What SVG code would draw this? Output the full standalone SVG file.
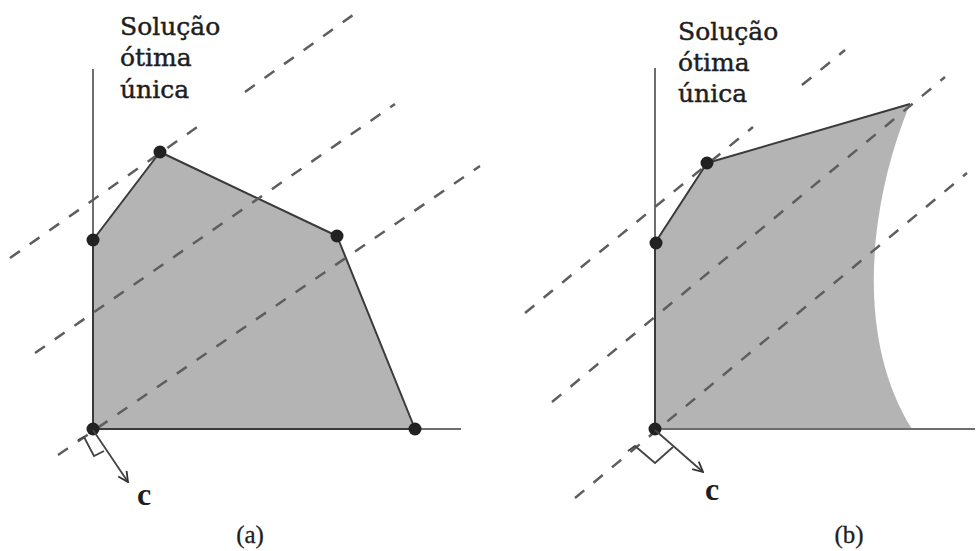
<svg xmlns="http://www.w3.org/2000/svg" width="977" height="551" viewBox="0 0 977 551">
<defs>
<style>
.region{fill:#b4b4b4;stroke:none}
.edge{fill:none;stroke:#3a3a3a;stroke-width:2;stroke-linejoin:round}
.axis{fill:none;stroke:#6e6e6e;stroke-width:2}
.dash{fill:none;stroke:#5e5e5e;stroke-width:2.5;stroke-dasharray:12 12}
.dot{fill:#222}
.mark{fill:none;stroke:#444;stroke-width:1.8}
.lbl{font-family:"DejaVu Serif","Liberation Serif",serif;font-size:25px;fill:#1e1e1e;stroke:#1e1e1e;stroke-width:0.45}
.vec{font-family:"Liberation Serif",serif;font-size:32px;font-weight:bold;fill:#1e1e1e}
.cap{font-family:"Liberation Serif",serif;font-size:25px;fill:#1e1e1e;stroke:#1e1e1e;stroke-width:0.3;text-anchor:middle}
</style>
<marker id="arr" viewBox="0 0 12 12" refX="11" refY="6" markerWidth="12" markerHeight="12" markerUnits="userSpaceOnUse" orient="auto">
<path d="M1,1 L11,6 L1,11" fill="none" stroke="#333" stroke-width="1.8"/>
</marker>
</defs>
<rect width="977" height="551" fill="#fff"/>

<g id="panel-a">
<g id="a-region">
<polygon class="region" points="93,429 93,240 160,152 337,236 415,429"/>
</g>
<g id="a-axes">
<line class="axis" x1="93" y1="69" x2="93" y2="429"/>
<line class="axis" x1="93" y1="429" x2="461" y2="429"/>
</g>
<g id="a-edges">
<polyline class="edge" points="93,429 93,240 160,152 337,236 415,429 93,429"/>
</g>
<g id="a-dashed">
<line class="dash" x1="10" y1="258" x2="203" y2="123"/>
<line class="dash" x1="245" y1="92" x2="360" y2="10"/>
<line class="dash" x1="35" y1="353" x2="395" y2="104"/>
<line class="dash" x1="58" y1="455" x2="480" y2="166"/>
</g>
<g id="a-vertices">
<circle class="dot" cx="93" cy="429" r="6.5"/>
<circle class="dot" cx="93" cy="240" r="6.5"/>
<circle class="dot" cx="160" cy="152" r="6.5"/>
<circle class="dot" cx="337" cy="236" r="6.5"/>
<circle class="dot" cx="415" cy="429" r="6.5"/>
</g>
<g id="a-vector">
<polyline class="mark" points="78,440 84,437 94,456 104,451"/>
<line class="mark" x1="93" y1="430" x2="128" y2="482" marker-end="url(#arr)"/>
<text class="vec" x="137" y="505">c</text>
</g>
<g id="a-label">
<text class="lbl" x="120" y="35">Solução</text>
<text class="lbl" x="120" y="66">ótima</text>
<text class="lbl" x="120" y="98">única</text>
</g>
<text class="cap" x="250" y="543">(a)</text>
</g>

<g id="panel-b">
<g id="b-region">
<path class="region" d="M655,429 L655,243 L707,163 L910,104 C874,190 850,330 912,429 Z"/>
</g>
<g id="b-axes">
<line class="axis" x1="655" y1="68" x2="655" y2="429"/>
<line class="axis" x1="655" y1="429" x2="975" y2="429"/>
</g>
<g id="b-edges">
<polyline class="edge" points="655,429 655,243 707,163 910,104"/>
</g>
<g id="b-dashed">
<line class="dash" x1="525" y1="313" x2="753" y2="127"/>
<line class="dash" x1="802" y1="85" x2="845" y2="50"/>
<line class="dash" x1="552" y1="402" x2="945" y2="77"/>
<line class="dash" x1="575" y1="498" x2="967" y2="173"/>
</g>
<g id="b-vertices">
<circle class="dot" cx="655" cy="429" r="6.5"/>
<circle class="dot" cx="656" cy="243" r="6.5"/>
<circle class="dot" cx="707" cy="163" r="6.5"/>
</g>
<g id="b-vector">
<polyline class="mark" points="628,451 635,446 655,463 673,447"/>
<line class="mark" x1="655" y1="430" x2="703" y2="472" marker-end="url(#arr)"/>
<text class="vec" x="705" y="500">c</text>
</g>
<g id="b-label">
<text class="lbl" x="678" y="40">Solução</text>
<text class="lbl" x="678" y="71">ótima</text>
<text class="lbl" x="678" y="102">única</text>
</g>
<text class="cap" x="849" y="543">(b)</text>
</g>
</svg>
